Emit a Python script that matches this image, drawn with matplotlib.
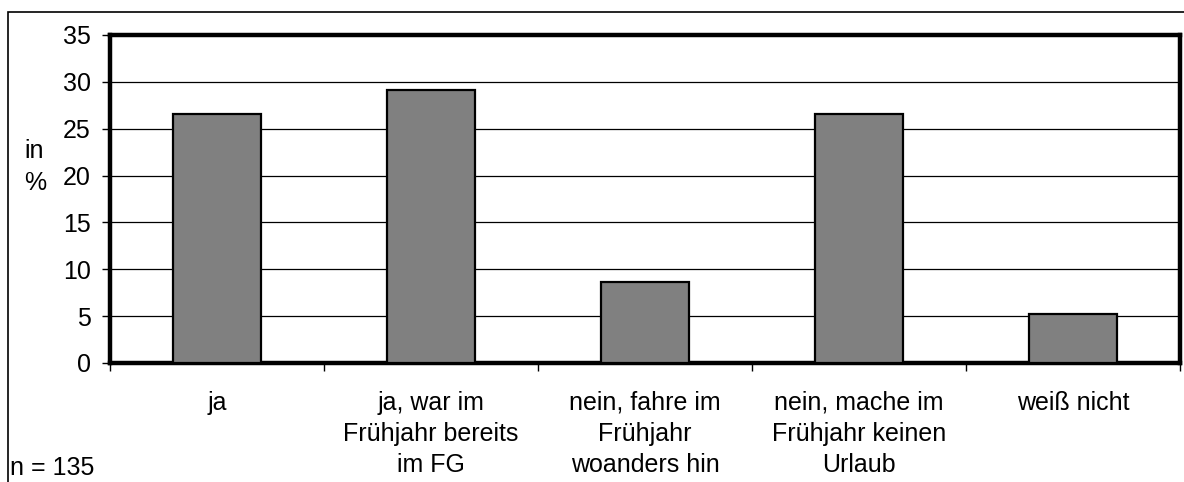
import matplotlib
matplotlib.use("Agg")
import matplotlib.pyplot as plt
from matplotlib.patches import Rectangle
import numpy as np

plt.rcParams['font.family'] = ['Liberation Sans', 'DejaVu Sans']

categories = ['ja', 'ja, war im\nFrühjahr bereits\nim FG', 'nein, fahre im\nFrühjahr\nwoanders hin',
              'nein, mache im\nFrühjahr keinen\nUrlaub', 'weiß nicht']
values = [26.6, 29.1, 8.6, 26.6, 5.2]
yticks = [0, 5, 10, 15, 20, 25, 30, 35]

W, H = 1184, 482
fs = 18
fig = plt.figure(figsize=(W / 100, H / 100), dpi=100)
ax = fig.add_axes([110 / W, 1 - 363 / H, 1070 / W, 328 / H])

x = np.arange(len(categories))
ax.bar(x, values, width=0.41, color='#808080', edgecolor='black', linewidth=1.6, zorder=3)

ax.set_xlim(-0.5, len(categories) - 0.5)
ax.set_ylim(0, 35)
ax.set_yticks(yticks)
ax.yaxis.grid(True, color='black', linewidth=0.9, zorder=0)

# category boundaries get the tick marks, labels sit between them
ax.set_xticks(np.arange(len(categories) + 1) - 0.5)
ax.set_xticklabels([])
ax.set_xticks(x, minor=True)
ax.set_xticklabels(categories, minor=True, linespacing=1.38)
ax.tick_params(axis='x', which='minor', length=0, pad=20, labelsize=fs)
ax.tick_params(axis='x', which='major', length=6, width=1, direction='out')
ax.tick_params(axis='y', length=6, width=1, direction='out', pad=8, labelsize=fs)

for s in ax.spines.values():
    s.set_linewidth(3.2)

fig.text(24 / W, 1 - 167 / H, 'in\n%', fontsize=fs, ha='left', va='center', linespacing=1.38)
fig.text(10 / W, 1 - 468 / H, 'n = 135', fontsize=fs, ha='left', va='center')

# outer frame
fig.add_artist(Rectangle((8 / W, -0.1), 1.2, 1 - 12 / H + 0.1, transform=fig.transFigure,
                         fill=False, edgecolor='black', linewidth=1.2))

fig.savefig('out.png', dpi=100)
